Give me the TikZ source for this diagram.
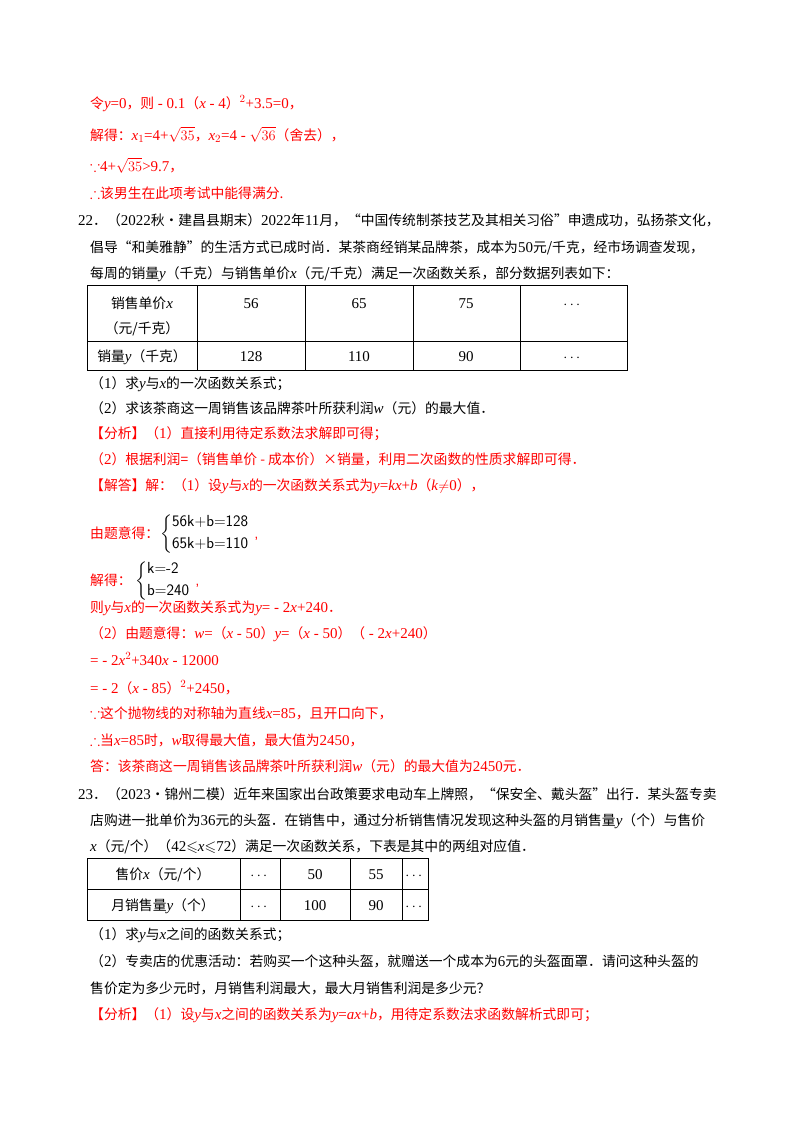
\documentclass[tikz,border=0pt]{standalone}
\usepackage{amsmath,amssymb}
\usepackage{fontspec}
\setmainfont{Liberation Serif}
\newfontfamily\cjk{Noto Sans CJK SC}[Scale=0.92]
\begin{document}
\begin{tikzpicture}[x=1pt,y=-1pt,
  t/.style={anchor=base west,inner sep=0pt,font=\fontsize{15}{17}\selectfont},
  r/.style={t,text=red},
  c/.style={anchor=base,inner sep=0pt,font=\fontsize{15}{17}\selectfont},
  tb/.style={line width=1pt}]
\useasboundingbox[fill=white] (0,0) rectangle (800,1132);
\newcommand{\C}[1]{{\cjk #1}}
\newcommand{\X}[1]{\textit{#1}}
\node[r] (l1) at (90,108) {\C{令}\X{y}=0\C{，则} - 0.1\C{（}\X{x} - 4\C{）}$^2$+3.5=0\C{，}};
\node[r] (l2) at (90,140) {\C{解得：}\X{x}$_1$=4+$\sqrt{35}$\C{，}\X{x}$_2$=4 - $\sqrt{36}$\C{（舍去），}};
\node[r] (l3) at (90,171) {$\because$4+$\sqrt{35}$>9.7\C{，}};
\node[r] (l4) at (90,198) {$\therefore$\C{该男生在此项考试中能得满分.}};
\node[t] (l5) at (78,225) {22\C{．（}2022\C{秋•建昌县期末）}2022\C{年}11\C{月，“中国传统制茶技艺及其相关习俗”申遗成功，弘扬茶文化，}};
\node[t] (l6) at (90,252) {\C{倡导“和美雅静”的生活方式已成时尚．某茶商经销某品牌茶，成本为}50\C{元/千克，经市场调查发现，}};
\node[t] (l7) at (90,278) {\C{每周的销量}\X{y}\C{（千克）与销售单价}\X{x}\C{（元/千克）满足一次函数关系，部分数据列表如下：}};
% table 1
\draw[tb] (87,285) rectangle (627,370);
\draw[tb] (87,341) -- (627,341);
\foreach \xx in {197,305,413,520} \draw[tb] (\xx,285) -- (\xx,370);
\node[c] (a1) at (142,308) {\C{销售单价}\X{x}};
\node[c] (a2) at (142,333) {\C{（元/千克）}};
\node[c] (a3) at (251,308) {56};
\node[c] (a4) at (359,308) {65};
\node[c] (a5) at (466,308) {75};
\node[c] (a6) at (573,308) {$\cdots$};
\node[c] (b1) at (142,361) {\C{销量}\X{y}\C{（千克）}};
\node[c] (b3) at (251,361) {128};
\node[c] (b4) at (359,361) {110};
\node[c] (b5) at (466,361) {90};
\node[c] (b6) at (573,361) {$\cdots$};
\node[t] (q1) at (90,388) {\C{（}1\C{）求}\X{y}\C{与}\X{x}\C{的一次函数关系式；}};
\node[t] (q2) at (90,413) {\C{（}2\C{）求该茶商这一周销售该品牌茶叶所获利润}\X{w}\C{（元）的最大值．}};
\node[r] (f1) at (90,438) {\C{【分析】（}1\C{）直接利用待定系数法求解即可得；}};
\node[r] (f2) at (90,464) {\C{（}2\C{）根据利润=（销售单价 - 成本价）×销量，利用二次函数的性质求解即可得．}};
\node[r] (s1) at (90,490) {\C{【解答】解：（}1\C{）设}\X{y}\C{与}\X{x}\C{的一次函数关系式为}\X{y}=\X{kx}+\X{b}\C{（}\X{k}$\neq$0\C{），}};
\node[r] (s2) at (90,538) {\C{由题意得：}};
\node[t,font=\fontsize{16}{18}\sffamily] (s2b) at (160,538) {$\left\{\begin{array}{@{}l}\text{56k+b=128}\\[4pt]\text{65k+b=110}\end{array}\right.$\textcolor{red}{,}};
\node[r] (s3) at (90,585) {\C{解得：}};
\node[t,font=\fontsize{16}{18}\sffamily] (s3b) at (135,585) {$\left\{\begin{array}{@{}l}\text{k=-2}\\[4pt]\text{b=240}\end{array}\right.$\textcolor{red}{,}};
\node[r] (s4) at (90,612) {\C{则}\X{y}\C{与}\X{x}\C{的一次函数关系式为}\X{y}= - 2\X{x}+240\C{．}};
\node[r] (s5) at (90,638) {\C{（}2\C{）由题意得：}\X{w}=\C{（}\X{x} - 50\C{）}\X{y}=\C{（}\X{x} - 50\C{）（} - 2\X{x}+240\C{）}};
\node[r] (s6) at (90,665) {= - 2\X{x}$^2$+340\X{x} - 12000};
\node[r] (s7) at (90,693) {= - 2\C{（}\X{x} - 85\C{）}$^2$+2450\C{，}};
\node[r] (s8) at (90,718) {$\because$\C{这个抛物线的对称轴为直线}\X{x}=85\C{，且开口向下，}};
\node[r] (s9) at (90,745) {$\therefore$\C{当}\X{x}=85\C{时，}\X{w}\C{取得最大值，最大值为}2450\C{，}};
\node[r] (s10) at (90,771) {\C{答：该茶商这一周销售该品牌茶叶所获利润}\X{w}\C{（元）的最大值为}2450\C{元．}};
\node[t] (m1) at (78,799) {23\C{．（}2023\C{•锦州二模）近年来国家出台政策要求电动车上牌照，“保安全、戴头盔”出行．某头盔专卖}};
\node[t] (m2) at (90,825) {\C{店购进一批单价为}36\C{元的头盔．在销售中，通过分析销售情况发现这种头盔的月销售量}\X{y}\C{（个）与售价}};
\node[t] (m3) at (90,851) {\X{x}\C{（元/个）（}42$\leqslant$\X{x}$\leqslant$72\C{）满足一次函数关系，下表是其中的两组对应值．}};
% table 2
\draw[tb] (87,858) rectangle (428,920);
\draw[tb] (87,889) -- (428,889);
\foreach \xx in {240,280,350,402} \draw[tb] (\xx,858) -- (\xx,920);
\node[c] (c1) at (163,879) {\C{售价}\X{x}\C{（元/个）}};
\node[c] (c2) at (260,879) {$\cdots$};
\node[c] (c3) at (315,879) {50};
\node[c] (c4) at (376,879) {55};
\node[c] (c5) at (415,879) {$\cdots$};
\node[c] (d1) at (163,910) {\C{月销售量}\X{y}\C{（个）}};
\node[c] (d2) at (260,910) {$\cdots$};
\node[c] (d3) at (315,910) {100};
\node[c] (d4) at (376,910) {90};
\node[c] (d5) at (415,910) {$\cdots$};
\node[t] (n1) at (90,939) {\C{（}1\C{）求}\X{y}\C{与}\X{x}\C{之间的函数关系式；}};
\node[t] (n2) at (90,966) {\C{（}2\C{）专卖店的优惠活动：若购买一个这种头盔，就赠送一个成本为}6\C{元的头盔面罩．请问这种头盔的}};
\node[t] (n3) at (90,993) {\C{售价定为多少元时，月销售利润最大，最大月销售利润是多少元？}};
\node[r] (n4) at (90,1019) {\C{【分析】（}1\C{）设}\X{y}\C{与}\X{x}\C{之间的函数关系为}\X{y}=\X{ax}+\X{b}\C{，用待定系数法求函数解析式即可；}};
\end{tikzpicture}
\end{document}
